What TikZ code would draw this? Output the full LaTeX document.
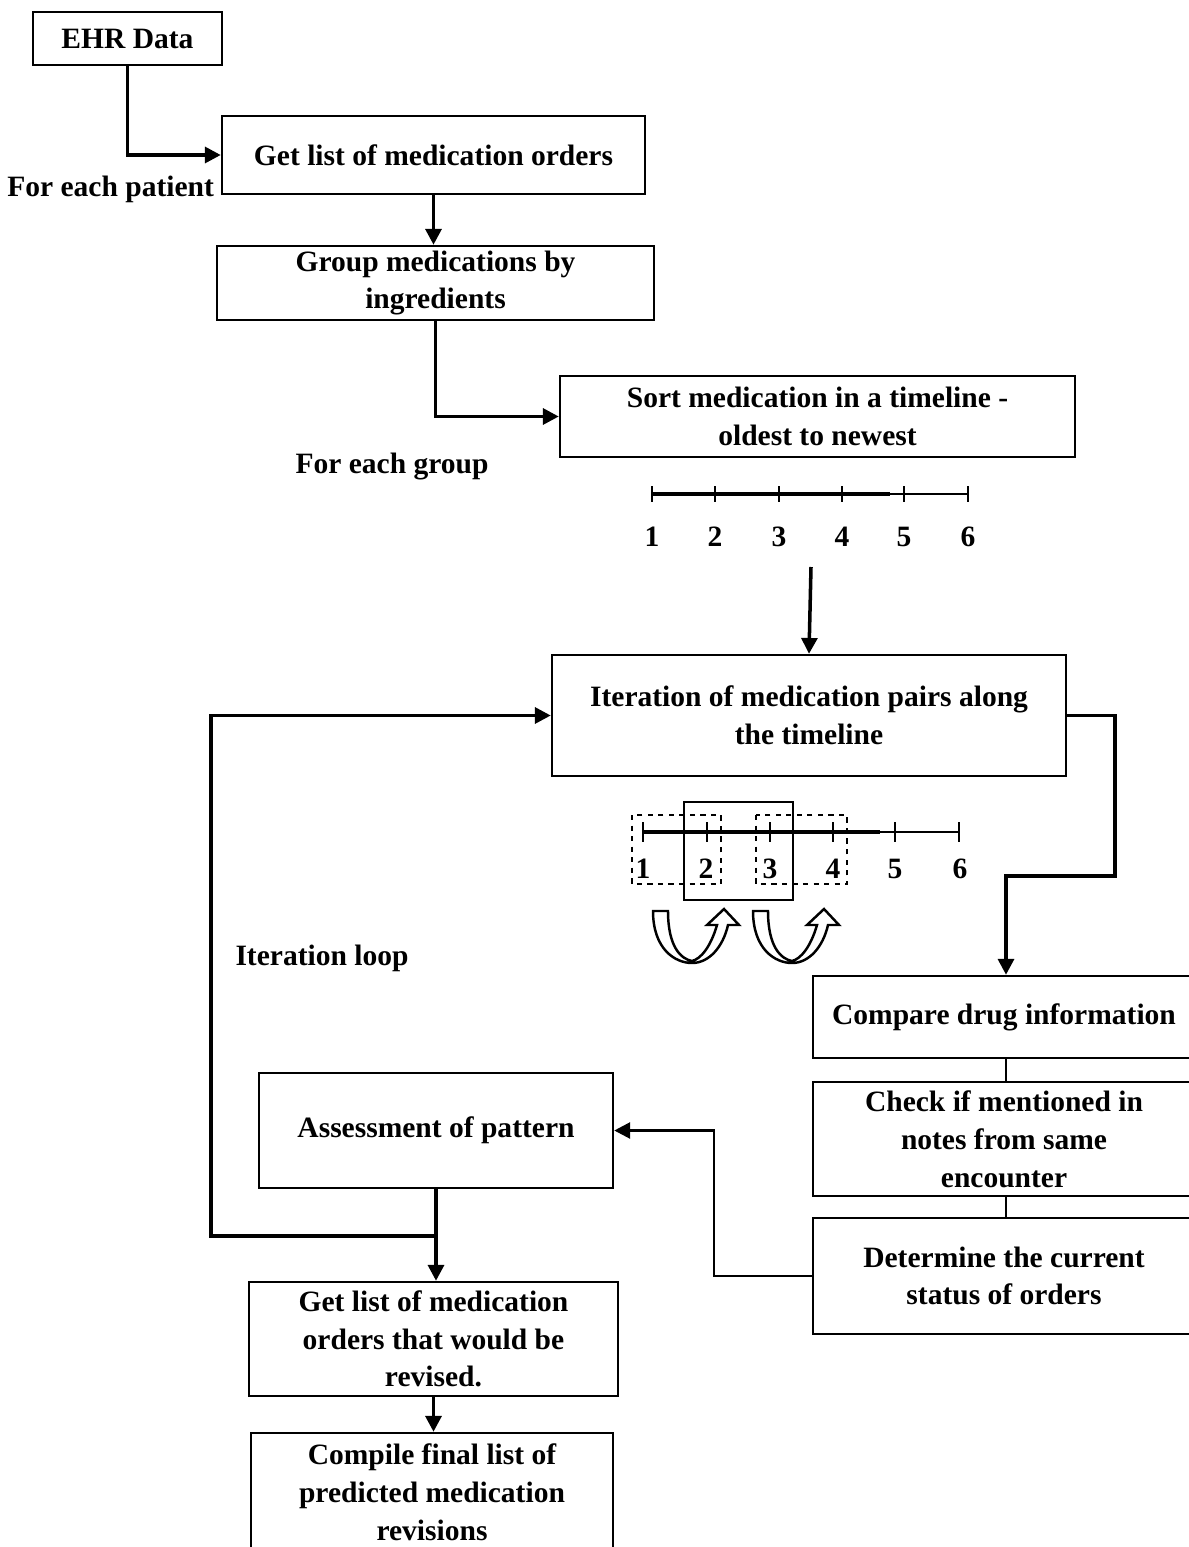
\documentclass[tikz,border=0pt]{standalone}
\usepackage{fontspec}
\setmainfont{Liberation Serif}
\usetikzlibrary{arrows.meta}
\begin{document}
\begin{tikzpicture}[x=0.02cm,y=-0.02cm,
  font=\fontsize{16.8}{21.5}\selectfont\bfseries,
  box/.style 2 args={draw, line width=1.4pt, rectangle, inner sep=0pt, align=center,
    minimum width=#1*0.02cm, minimum height=#2*0.02cm},
  arr/.style={line width=2pt, -{Triangle[length=9pt,width=9pt]}},
  thin/.style={line width=1.4pt},
  lbl/.style={inner sep=0pt},
  num/.style={inner sep=0pt, anchor=base},
  pics/uturn/.style={code={
    \draw[thin, fill=white, line join=miter]
      (0,0) .. controls (0,38) and (22,52) .. (39,52)
      .. controls (56,52) and (70,36) .. (75,14)
      -- (86,14) -- (71,-2) -- (54,14) -- (64,14)
      .. controls (58,35) and (48,48) .. (39,50)
      .. controls (28,48) and (15,36) .. (15,0) -- cycle;
  }}
]
\useasboundingbox (0,0) rectangle (1188,1547);

% ---- process boxes ----
\node[box={189}{53}] (ehr) at (127.5,38.5) {EHR Data};
\node[box={423}{78}] (gl) at (433.5,155) {Get list of medication orders};
\node[box={437}{74}] (grp) at (435.5,283) {Group medications by\\ingredients};
\node[box={515}{81}] (sort) at (817.5,416.5) {Sort medication in a timeline -\\oldest to newest};
\node[box={514}{121}] (iter) at (809,715.5) {Iteration of medication pairs along\\the timeline};
\node[box={382}{82}] (cmp) at (1004,1017) {Compare drug information};
\node[box={382}{114}] (chk) at (1004,1139) {Check if mentioned in\\notes from same\\encounter};
\node[box={382}{116}] (det) at (1004,1276) {Determine the current\\status of orders};
\node[box={354}{115}] (asm) at (436,1130.5) {Assessment of pattern};
\node[box={369}{114}] (rev) at (433.5,1339) {Get list of medication\\orders that would be\\revised.};
\node[box={362}{118}] (fin) at (432,1492) {Compile final list of\\predicted medication\\revisions};

% ---- free labels ----
\node[lbl, anchor=west] (lpat) at (7,189) {For each patient};
\node[lbl] (lgrp) at (392,467) {For each group};
\node[lbl] (lloop) at (322,958) {Iteration loop};

% ---- timeline of sorted orders ----
\draw[line width=2.4pt] (652,494) -- (890,494);
\draw[thin] (890,494) -- (968,494);
\foreach \x/\n in {652/1,715/2,779/3,842/4,904/5,968/6}{
  \draw[thin] (\x,486) -- (\x,502);
  \node[num] (ta\n) at (\x,546) {\n};
}

% ---- timeline with paired windows ----
\draw[line width=2.4pt] (643,832) -- (880,832);
\draw[thin] (880,832) -- (959,832);
\foreach \x/\n in {643/1,707/2,770/3,833/4,895/5,959/6}{
  \draw[thin] (\x,822) -- (\x,842);
}
\foreach \x/\n in {643/1,706/2,770/3,833/4,895/5,960/6}{
  \node[num] (tb\n) at (\x,878) {\n};
}
\draw[thin, dashed] (632,815) rectangle (721,884);
\draw[thin, dashed] (756,815) rectangle (847,884);
\draw[thin] (684,802) rectangle (793,900);
\pic at (653,911) {uturn};
\pic at (753,911) {uturn};

% ---- connectors ----
\coordinate (tlarrow) at (811,567);
\coordinate (jogA) at (1115,876);
\coordinate (jogB) at (714,0);
\coordinate (loopc) at (211,1236);

\draw[arr] (ehr.south) |- (gl.west);
\draw[arr] (gl.south) -- (gl.south |- grp.north);
\draw[arr] (grp.south) |- (sort.west);
\draw[arr] (tlarrow) -- (iter.north);
\draw[arr] (iter.east) -| (jogA) -| ([xshift=0.04cm]cmp.north);
\draw[thin] ([xshift=0.04cm]cmp.south) -- ([xshift=0.04cm]chk.north);
\draw[thin] ([xshift=0.04cm]chk.south) -- ([xshift=0.04cm]det.north);
\draw[arr, line width=1.6pt] (det.west) -- (det.west -| jogB) |- (asm.east);
\draw[arr] (asm.south) -- (asm.south |- rev.north);
\draw[arr] (asm.south |- loopc) -- (loopc) |- (iter.west);
\draw[arr] (rev.south) -- (rev.south |- fin.north);
\end{tikzpicture}
\end{document}
